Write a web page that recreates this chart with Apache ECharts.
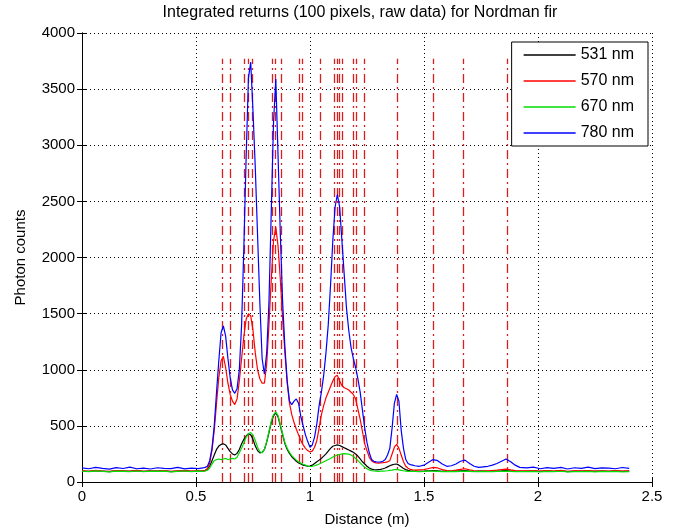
<!DOCTYPE html>
<html>
<head>
<meta charset="utf-8">
<title>Integrated returns for Nordman fir</title>
<script src="https://cdn.jsdelivr.net/npm/echarts@6/dist/echarts.min.js"></script>
<style>
  html, body { margin: 0; padding: 0; background: #fff; }
  #chart { width: 682px; height: 532px; }
</style>
</head>
<body>
<div id="chart"></div>
<script>
// distance along the scan (m)
const distance = [
  0, 0.03, 0.06, 0.09, 0.12, 0.15, 0.18, 0.21, 0.24, 0.27, 0.30, 0.33, 0.36, 0.39, 0.42, 0.45, 0.48, 0.51,
  0.53, 0.54, 0.55, 0.56, 0.57, 0.58, 0.59, 0.60, 0.61, 0.62,
  0.63, 0.64, 0.65, 0.66, 0.67, 0.68, 0.69, 0.70, 0.71, 0.72,
  0.73, 0.74, 0.75, 0.76, 0.77, 0.78, 0.79, 0.80, 0.81, 0.82,
  0.83, 0.84, 0.85, 0.86, 0.87, 0.88, 0.89, 0.90, 0.91, 0.92,
  0.93, 0.94, 0.95, 0.96, 0.97, 0.98, 0.99, 1.00, 1.01, 1.02,
  1.03, 1.04, 1.05, 1.06, 1.07, 1.08, 1.09, 1.10, 1.11, 1.12,
  1.13, 1.14, 1.15, 1.16, 1.17, 1.18, 1.19, 1.20, 1.21, 1.22,
  1.23, 1.24, 1.25, 1.26, 1.27, 1.28, 1.29, 1.30, 1.31, 1.32,
  1.33, 1.34, 1.35, 1.36, 1.37, 1.38, 1.39, 1.40, 1.41, 1.42,
  1.43, 1.44, 1.45,
  1.46, 1.48, 1.50, 1.52, 1.54, 1.56, 1.58, 1.60, 1.62, 1.64, 1.66, 1.68,
  1.70, 1.72, 1.74, 1.76, 1.78, 1.80, 1.82, 1.84, 1.86, 1.88, 1.90, 1.92,
  1.95, 1.98, 2.01, 2.04, 2.07, 2.10, 2.13, 2.16, 2.19, 2.22, 2.25, 2.28, 2.31, 2.34, 2.37, 2.40
];

// photon counts per wavelength
const counts531 = [
  98, 94, 101, 96, 93, 99, 97, 95, 100, 94, 98, 96, 99, 93, 97, 100, 95, 98,
  98, 100, 110, 140, 190, 240, 290, 320, 335, 340,
  330, 300, 270, 250, 240, 255, 290, 340, 380, 410,
  430, 420, 380, 320, 280, 260, 265, 290, 355, 440,
  530, 590, 615, 580, 500, 420, 340, 290, 255, 225,
  205, 185, 170, 160, 150, 145, 140, 142, 150, 165,
  180, 195, 210, 230, 250, 275, 300, 318, 325, 330,
  325, 315, 305, 295, 285, 275, 265, 250, 230, 205,
  180, 160, 140, 125, 115, 110, 108, 110, 112, 118,
  125, 135, 145, 152, 158, 160, 150, 135, 120, 110,
  104, 100, 98,
  96, 95, 97, 100, 102, 99, 96, 95, 96, 97, 100, 102,
  98, 95, 96, 97, 95, 96, 98, 99, 101, 98, 96, 95,
  95, 98, 94, 97, 95, 99, 93, 96, 95, 98, 94, 97, 95, 97, 94, 96
];
const counts570 = [
  100, 96, 104, 98, 95, 102, 99, 97, 103, 96, 100, 98, 101, 95, 99, 102, 97, 100,
  100, 105, 120, 170, 280, 460, 700, 930, 1080, 1120,
  1020, 880, 780, 720, 690, 740, 900, 1100, 1300, 1450,
  1500, 1480, 1350, 1150, 1000, 920, 880, 880, 1050, 1400,
  1800, 2150, 2270, 2100, 1800, 1450, 1150, 880, 700, 600,
  530, 470, 420, 370, 330, 300, 280, 268, 275, 310,
  370, 480, 600, 680, 750, 800, 850, 900, 940, 950,
  900, 860, 840, 830, 820, 800, 780, 740, 650, 560,
  450, 340, 280, 220, 190, 175, 170, 168, 170, 172,
  175, 180, 190, 250, 310, 335, 300, 240, 180, 140,
  122, 112, 108,
  105, 108, 110, 120, 130, 125, 110, 102, 100, 105, 112, 118,
  108, 100, 98, 100, 99, 102, 105, 110, 115, 108, 102, 99,
  99, 102, 97, 101, 98, 103, 96, 100, 99, 102, 97, 100, 98, 101, 97, 100
];
const counts670 = [
  96, 92, 99, 94, 91, 97, 95, 93, 98, 92, 96, 94, 97, 91, 95, 98, 93, 96,
  95, 98, 105, 125, 160, 190, 200, 205, 200, 205,
  210, 200, 205, 210, 205, 220, 260, 300, 350, 400,
  430, 440, 420, 370, 310, 270, 260, 290, 360, 450,
  540, 600, 625, 590, 510, 430, 350, 300, 265, 235,
  215, 195, 180, 168, 158, 150, 142, 138, 140, 145,
  152, 160, 170, 180, 190, 200, 210, 222, 232, 240,
  245, 250, 252, 250, 248, 240, 228, 210, 190, 170,
  150, 132, 118, 108, 102, 98, 96, 95, 96, 97,
  98, 100, 103, 106, 110, 112, 108, 104, 100, 97,
  95, 94, 95,
  94, 93, 95, 96, 97, 95, 93, 92, 94, 93, 95, 96,
  94, 92, 93, 94, 92, 93, 95, 94, 96, 94, 93, 92,
  92, 95, 91, 94, 92, 96, 90, 93, 92, 95, 91, 94, 92, 94, 91, 93
];
const counts780 = [
  125, 118, 130, 122, 115, 128, 120, 132, 118, 124, 116, 127, 121, 119, 130, 117, 123, 120,
  125, 130, 140, 190, 300, 500, 800, 1080, 1330, 1390,
  1300, 1100, 930, 820, 790, 830, 1000, 1400, 2100, 2900,
  3600, 3740, 3300, 2800, 2200, 1600, 1100, 960, 1150, 1600,
  2400, 3200, 3590, 2900, 2200, 1600, 1200, 900, 720, 690,
  720, 740, 700, 580, 500, 420, 360, 310, 330, 400,
  520, 680, 800, 950, 1150, 1400, 1750, 2150, 2450, 2560,
  2450, 2150, 1850, 1550, 1350, 1200, 1100, 1020, 920, 800,
  640, 480, 350, 260, 200, 185, 180, 178, 180, 185,
  200, 240, 300, 480, 700, 780, 720, 460, 300, 200,
  165, 155, 150,
  145, 140, 150, 175, 200, 190, 160, 140, 145, 160, 185, 195,
  165, 140, 130, 135, 140, 150, 165, 185, 205, 180, 150, 130,
  125, 132, 118, 128, 122, 130, 116, 127, 121, 133, 119, 126, 124, 118, 129, 122
];

// marked peak positions (m) and how high the markers reach
const peakLines = [
  0.616, 0.651, 0.711, 0.728, 0.746, 0.836, 0.849, 0.873, 0.954, 0.965,
  1.044, 1.105, 1.118, 1.129, 1.140, 1.191, 1.204, 1.237, 1.382, 1.542, 1.673, 1.864
];
const peakTop = 3770;

const seriesNames = ['531 nm', '570 nm', '670 nm', '780 nm'];
const seriesColors = ['#000000', '#ff0000', '#00dd00', '#0000ff'];
const seriesValues = [counts531, counts570, counts670, counts780];

const font = "'Liberation Sans', Arial, sans-serif";

function pairs(vals) {
  return distance.map((d, i) => [d, vals[i]]);
}

const chart = echarts.init(document.getElementById('chart'));

const option = {
  animation: false,
  backgroundColor: '#fff',
  textStyle: { fontFamily: font, color: '#000' },
  title: {
    text: 'Integrated returns (100 pixels, raw data) for Nordman fir',
    left: 355,
    textAlign: 'center',
    top: 0,
    textStyle: { fontFamily: font, fontSize: 16, fontWeight: 'normal', color: '#000' }
  },
  grid: { left: 82, right: 30, top: 33, bottom: 49 },
  legend: {
    data: seriesNames,
    orient: 'vertical',
    right: 34,
    top: 42,
    backgroundColor: '#fff',
    borderColor: '#000',
    borderWidth: 1,
    borderRadius: 0,
    padding: [5, 14, 5, 12],
    icon: 'path://M0,0h52v1.3h-52z',
    itemWidth: 52,
    itemHeight: 15,
    itemGap: 10,
    textStyle: { fontFamily: font, fontSize: 16, color: '#000' }
  },
  xAxis: [
    {
      type: 'value',
      min: 0,
      max: 2.5,
      interval: 0.5,
      name: 'Distance (m)',
      nameLocation: 'middle',
      nameGap: 30,
      nameTextStyle: { fontFamily: font, fontSize: 15, color: '#000' },
      axisLine: { show: true, lineStyle: { color: '#000', width: 1 } },
      axisTick: { show: true, inside: true, length: 5, lineStyle: { color: '#000' } },
      axisLabel: { fontFamily: font, fontSize: 15, color: '#000', margin: 7 },
      splitLine: { show: true, lineStyle: { color: '#000', width: 1, type: [1, 3] } }
    },
    {
      type: 'value',
      position: 'top',
      min: 0,
      max: 2.5,
      interval: 0.5,
      axisLine: { show: true, lineStyle: { color: '#000', width: 1 } },
      axisTick: { show: true, inside: true, length: 5, lineStyle: { color: '#000' } },
      axisLabel: { show: false },
      splitLine: { show: false }
    }
  ],
  yAxis: [
    {
      type: 'value',
      min: 0,
      max: 4000,
      interval: 500,
      name: 'Photon counts',
      nameLocation: 'middle',
      nameGap: 54,
      nameTextStyle: { fontFamily: font, fontSize: 15, color: '#000' },
      axisLine: { show: true, lineStyle: { color: '#000', width: 1 } },
      axisTick: { show: true, inside: true, length: 5, lineStyle: { color: '#000' } },
      axisLabel: { fontFamily: font, fontSize: 15, color: '#000', margin: 7, formatter: v => String(v) },
      splitLine: { show: true, lineStyle: { color: '#000', width: 1, type: [1, 3] } }
    },
    {
      type: 'value',
      position: 'right',
      min: 0,
      max: 4000,
      interval: 500,
      axisLine: { show: true, lineStyle: { color: '#000', width: 1 } },
      axisTick: { show: true, inside: true, length: 5, lineStyle: { color: '#000' } },
      axisLabel: { show: false },
      splitLine: { show: false }
    }
  ],
  series: [
    {
      name: 'peaks',
      type: 'lines',
      coordinateSystem: 'cartesian2d',
      xAxisIndex: 0,
      yAxisIndex: 0,
      silent: true,
      z: 1,
      lineStyle: { color: '#d81e1e', width: 1.3, type: [9, 4, 2, 4], opacity: 1 },
      data: peakLines.map(d => ({ coords: [[d, 0], [d, peakTop]] }))
    }
  ].concat(seriesNames.map((name, k) => ({
    name: name,
    type: 'line',
    xAxisIndex: 0,
    yAxisIndex: 0,
    symbol: 'none',
    z: 2 + k,
    color: seriesColors[k],
    lineStyle: { color: seriesColors[k], width: 1.2 },
    data: pairs(seriesValues[k])
  })))
};

chart.setOption(option);
</script>
</body>
</html>
